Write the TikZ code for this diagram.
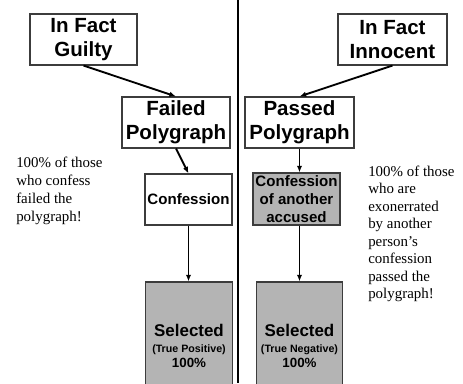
\documentclass[tikz,border=0pt]{standalone}
\usepackage{fontspec}
\setmainfont{Liberation Serif}
\setsansfont{Liberation Sans}
\usetikzlibrary{arrows.meta}
\usetikzlibrary{positioning}
\definecolor{boxgray}{RGB}{180,180,180}
\definecolor{edgegray}{RGB}{60,60,60}
\tikzset{tbox/.style = {draw=edgegray, line width=0.8pt, fill=white,
                        align=center, inner sep=0pt, minimum height=38.25pt}}
\tikzset{bigbox/.style = {tbox, font=\sffamily\bfseries\fontsize{15.4}{18}\selectfont}}
\tikzset{midbox/.style = {tbox, font=\sffamily\bfseries\fontsize{11.3}{13.5}\selectfont}}
\tikzset{selbox/.style = {tbox, fill=boxgray, minimum width=65pt, minimum height=96pt,
                          font=\sffamily\bfseries\fontsize{12.7}{11.6}\selectfont}}
\tikzset{note/.style = {align=left, inner sep=0pt, anchor=west}}
\tikzset{flow/.style = {-{Latex[length=5pt,width=4pt]}, line width=1.4pt}}

\begin{document}
\begin{tikzpicture}[x=0.75pt, y=-0.75pt]
      \useasboundingbox (0,0) rectangle (463,383);
      \clip (0,0) rectangle (463,383);
      \draw [line width=1.8pt] (238,0) -- (238,383);

      % guilty side
      \node [bigbox, minimum width=80.25pt] (guilty) at (83.5,39.5) {In Fact\\Guilty};
      \node [bigbox, minimum width=81pt] (failed) at (176,122.5) {Failed\\Polygraph};
      \node [midbox, minimum width=65.25pt] (confess) at (188.5,199.5) {Confession};
      \node [selbox] (selpos) at (189,346) {Selected\\{\fontsize{8}{11.6}\selectfont (True Positive)}\\{\fontsize{10}{11.6}\selectfont 100\%}};

      % innocent side
      \node [bigbox, minimum width=81.75pt] (innocent) at (392.5,39.5) {In Fact\\Innocent};
      \node [bigbox, minimum width=81.75pt] (passed) at (299.5,122.5) {Passed\\Polygraph};
      \node [midbox, fill=boxgray, minimum width=65.25pt, minimum height=39pt] (another) at (296.5,199) {Confession\\of another\\accused};
      \node [selbox] (selneg) at (299.5,346) {Selected\\{\fontsize{8}{11.6}\selectfont (True Negative)}\\{\fontsize{10}{11.6}\selectfont 100\%}};

      \draw [flow] (guilty.south) -- (failed.north);
      \draw [flow] (failed.south) -- (confess.north);
      \draw [flow] (confess.south) -- (confess.south |- selpos.north);
      \draw [flow] (innocent.south) -- (passed.north);
      \draw [flow] (passed.south) -- (passed.south |- another.north);
      \draw [flow] (selneg.north |- another.south) -- (selneg.north);

      \node [note, font=\fontsize{11.2}{13.5}\selectfont] (leftnote) at (16,191)
            {100\% of those\\who confess\\failed the\\polygraph!};
      \node [note, font=\fontsize{11.2}{13.1}\selectfont] (rightnote) at (368,234)
            {100\% of those\\who are\\exonerrated\\by another\\person’s\\confession\\passed the\\polygraph!};
    \end{tikzpicture}
\end{document}
